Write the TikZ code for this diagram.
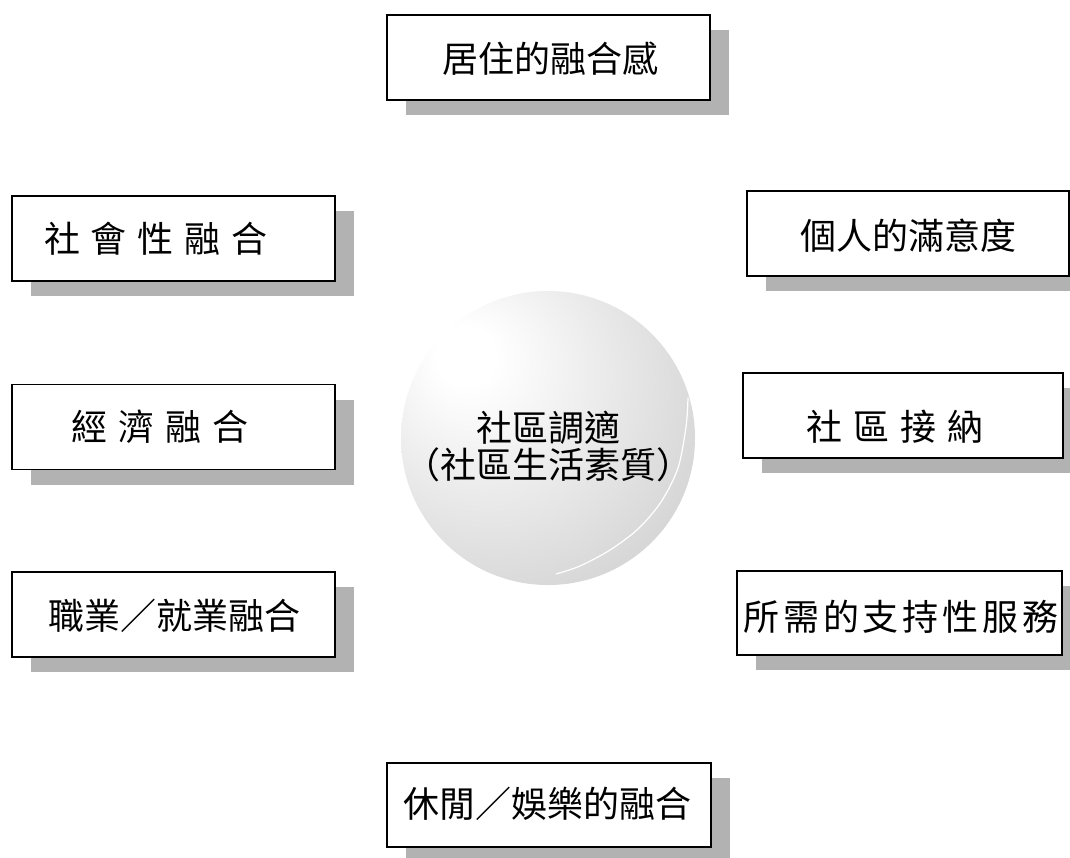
\documentclass[tikz,border=0pt]{standalone}
\usepackage{fontspec}
\newfontfamily\cjk{Noto Sans CJK TC}
\usetikzlibrary{shadows}
\pgfdeclareradialshading{sphshade}{\pgfpoint{-15bp}{15bp}}{color(0bp)=(white); color(5bp)=(white); color(37bp)=(gray!33); color(60bp)=(gray!48); color(75bp)=(gray!56)}
\begin{document}
\begin{tikzpicture}[x=1pt,y=-1pt,
  box/.style={draw=black, line width=1.5pt, fill=white, rectangle, minimum width=323pt, minimum height=85pt, inner sep=0pt,
    drop shadow={shadow xshift=19pt, shadow yshift=-15pt, fill=gray!60, opacity=1, draw=none}},
  lbl/.style={font=\cjk\fontsize{36}{37}\selectfont, inner sep=0pt, anchor=center}]
\useasboundingbox (0,0) rectangle (1070,857);
\fill[white] (0,0) rectangle (1070,857);
% boxes
\node[box] (top) at (548.5,57.5) {};
\node[box] (soc) at (173.5,238.5) {};
\node[box] (eco) at (173.5,427) {};
\node[box] (voc) at (173.5,614.5) {};
\node[box, minimum width=322pt] (sat) at (908,233.5) {};
\node[box, minimum width=320pt] (acc) at (903,415.5) {};
\node[box, minimum width=325pt, minimum height=84pt] (sup) at (899.5,613) {};
\node[box, minimum width=324pt, minimum height=84pt] (lei) at (549,805) {};
% labels
\node[lbl] (ttop) at (550,59) {居住的融合感};
\node[lbl] (tsoc) at (156,239) {社\hspace{11pt}會\hspace{11pt}性\hspace{11pt}融\hspace{11pt}合};
\node[lbl] (teco) at (160,427) {經\hspace{11pt}濟\hspace{11pt}融\hspace{11pt}合};
\node[lbl] (tvoc) at (174,616) {職業／就業融合};
\node[lbl] (tsat) at (908,236) {個人的滿意度};
\node[lbl] (tacc) at (895,427) {社\hspace{11pt}區\hspace{11pt}接\hspace{11pt}納};
\node[lbl] (tsup) at (901,617) {所\hspace{4pt}需\hspace{4pt}的\hspace{4pt}支\hspace{4pt}持\hspace{4pt}性\hspace{4pt}服\hspace{4pt}務};
\node[lbl] (tlei) at (547,804) {休閒／娛樂的融合};
% sphere
\node[circle, minimum size=294pt, inner sep=0pt, shading=sphshade, draw=none] (ball) at (548,438) {};
\draw[white, line width=1.2pt, line cap=round] plot[smooth] coordinates {(688,398) (686,427) (678,468) (661,502) (638,529) (610,550) (580,566) (556,574)};
\node[lbl, align=center] (tball) at (548,446) {社區調適\\（社區生活素質）};
\end{tikzpicture}
\end{document}
